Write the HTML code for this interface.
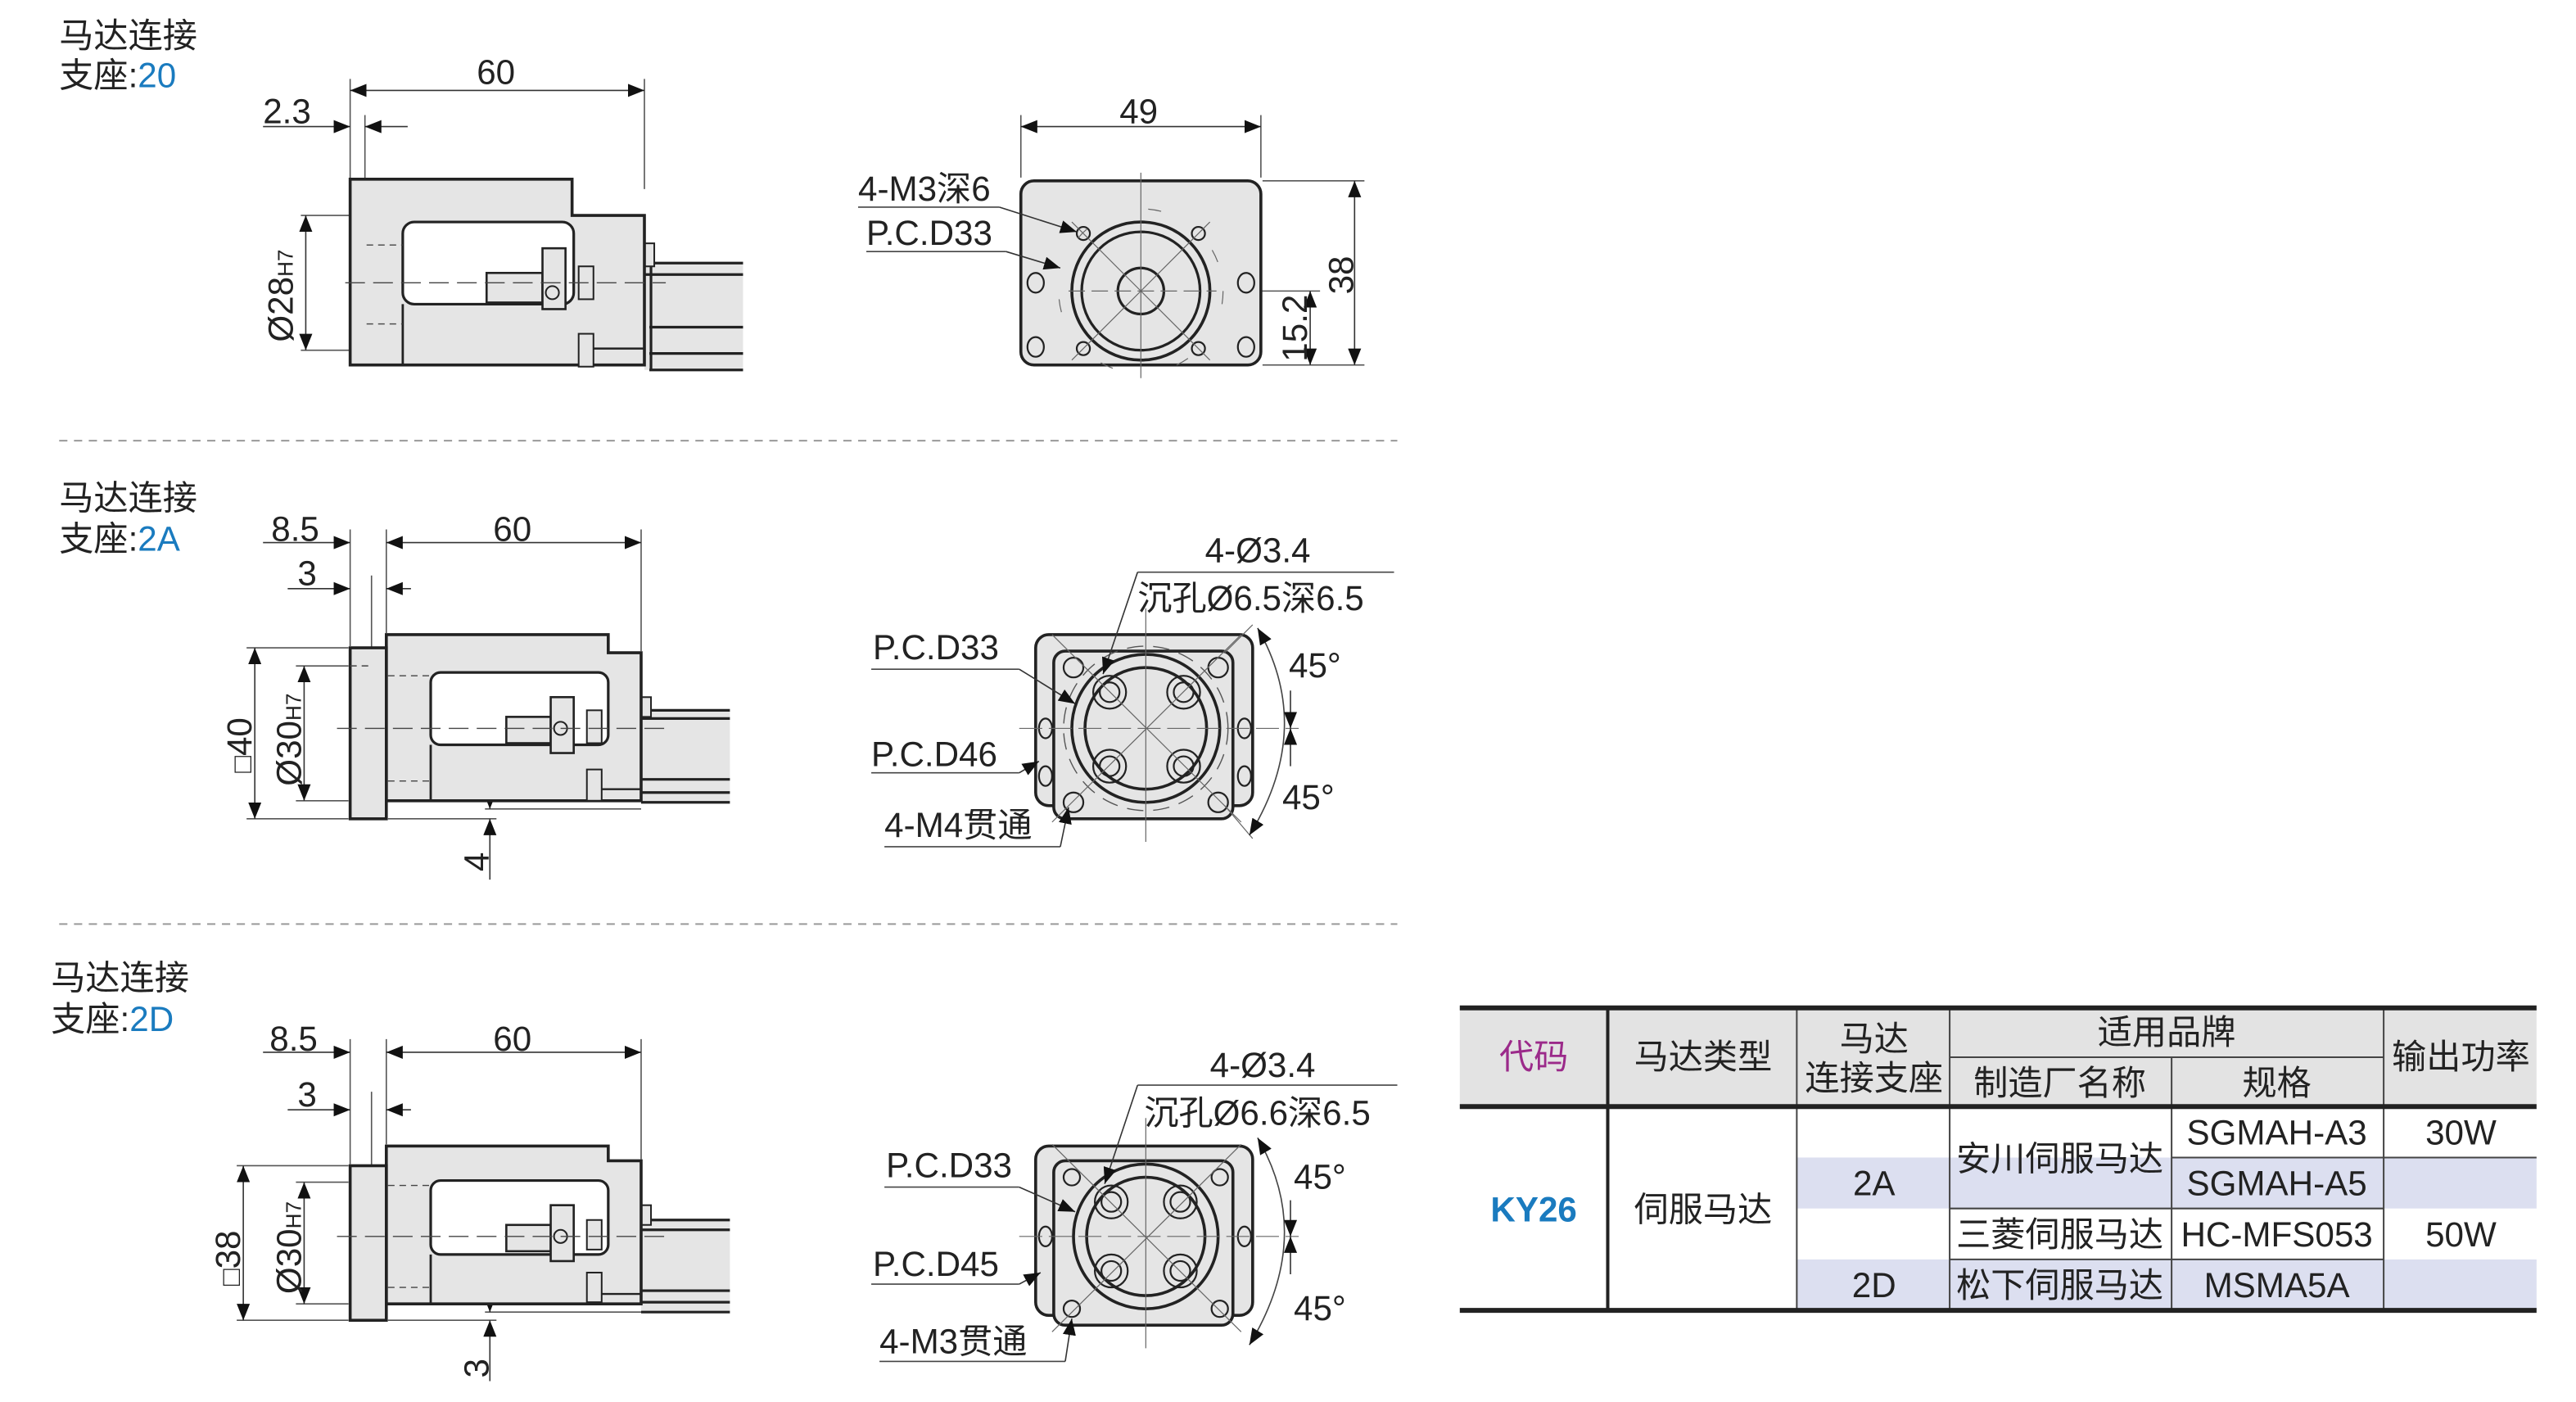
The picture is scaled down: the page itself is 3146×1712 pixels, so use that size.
<!DOCTYPE html>
<html><head><meta charset="utf-8"><style>
html,body{margin:0;padding:0;background:#fff;}
svg{display:block;}
text{font-family:"Liberation Sans","Noto Sans CJK SC",sans-serif;fill:#222;}
</style></head><body>
<svg width="3146" height="1712" viewBox="0 0 1567 852.7" preserveAspectRatio="none" xmlns="http://www.w3.org/2000/svg">
<defs>
<marker id="a" viewBox="0 0 10 8" refX="10" refY="4" markerWidth="10" markerHeight="8" markerUnits="userSpaceOnUse" orient="auto-start-reverse"><path d="M0,0 L10,4 L0,8 z" fill="#111"/></marker>
</defs>
<g font-size="21">
<!-- ========== Section 1 ========== -->
<text x="36" y="29">马达连接</text>
<text x="36" y="53">支座:<tspan fill="#1a7bbf">20</tspan></text>
<g stroke="#555" stroke-width="0.8" fill="none">
<line x1="213" y1="48" x2="213" y2="109"/><line x1="392" y1="48" x2="392" y2="115"/>
<line x1="222" y1="70" x2="222" y2="218"/>
<line x1="183" y1="131" x2="222" y2="131"/><line x1="183" y1="213" x2="222" y2="213"/>
</g>
<line x1="213" y1="55" x2="392" y2="55" stroke="#333" stroke-width="0.8" marker-start="url(#a)" marker-end="url(#a)"/>
<line x1="160" y1="77" x2="213" y2="77" stroke="#333" stroke-width="0.8" marker-end="url(#a)"/>
<line x1="248" y1="77" x2="222" y2="77" stroke="#333" stroke-width="0.8" marker-end="url(#a)"/>
<line x1="186" y1="131" x2="186" y2="213" stroke="#333" stroke-width="0.8" marker-start="url(#a)" marker-end="url(#a)"/>
<text x="290" y="51">60</text><text x="160" y="75">2.3</text>
<text transform="translate(178,208) rotate(-90)">Ø28<tspan font-size="13">H7</tspan></text>
<g stroke="#222" fill="#e5e5e5">
<rect x="392" y="160" width="60" height="65" stroke="none"/>
<g stroke-width="1.6"><line x1="392" y1="160" x2="452" y2="160"/><line x1="392" y1="167" x2="452" y2="167"/><line x1="395" y1="199" x2="452" y2="199"/><line x1="395" y1="215" x2="452" y2="215"/><line x1="395" y1="225" x2="452" y2="225"/><line x1="396" y1="160" x2="396" y2="225"/></g>
<rect x="392" y="148" width="6" height="14" stroke-width="1"/>
<path d="M213,109 H348 V131 H392 V222 H213 Z" stroke-width="1.8"/>
<rect x="245" y="135" width="104" height="50" rx="7" fill="#fff" stroke-width="1.6"/>
<line x1="245" y1="185" x2="245" y2="222" stroke-width="1.4"/>
<line x1="352" y1="212" x2="392" y2="212" stroke-width="1.2"/>
<rect x="352" y="162" width="9" height="20" stroke-width="1"/><rect x="352" y="203" width="9" height="20" stroke-width="1"/>
<rect x="296" y="166" width="34" height="18" stroke-width="1.3"/>
<rect x="330" y="151" width="14" height="37" stroke-width="1.3"/>
<circle cx="336" cy="178" r="4" stroke-width="1"/>
</g>
<line x1="210" y1="172" x2="405" y2="172" stroke="#444" stroke-width="0.7" stroke-dasharray="12,5"/>
<line x1="223" y1="149" x2="245" y2="149" stroke="#444" stroke-width="0.7" stroke-dasharray="4,3"/>
<line x1="223" y1="197" x2="245" y2="197" stroke="#444" stroke-width="0.7" stroke-dasharray="4,3"/>
<g stroke="#555" stroke-width="0.8" fill="none">
<line x1="621" y1="70" x2="621" y2="108"/><line x1="767" y1="70" x2="767" y2="108"/>
<line x1="768" y1="110" x2="830" y2="110"/><line x1="768" y1="222" x2="830" y2="222"/>
<line x1="745" y1="177" x2="803" y2="177"/>
</g>
<line x1="621" y1="77" x2="767" y2="77" stroke="#333" stroke-width="0.8" marker-start="url(#a)" marker-end="url(#a)"/>
<line x1="824" y1="110" x2="824" y2="222" stroke="#333" stroke-width="0.8" marker-start="url(#a)" marker-end="url(#a)"/>
<line x1="797" y1="177" x2="797" y2="222" stroke="#333" stroke-width="0.8" marker-start="url(#a)" marker-end="url(#a)"/>
<text x="681" y="75">49</text>
<text transform="translate(823,179) rotate(-90)">38</text>
<text transform="translate(795,220) rotate(-90)">15.2</text>
<rect x="621" y="110" width="146" height="112" rx="8" fill="#e5e5e5" stroke="#222" stroke-width="1.8"/>
<g fill="none" stroke="#222">
<circle cx="694" cy="177" r="42" stroke-width="1.8"/><circle cx="694" cy="177" r="36" stroke-width="1.6"/><circle cx="694" cy="177" r="14" stroke-width="1.6"/>
<g stroke-width="1.1"><ellipse cx="630" cy="172" rx="5" ry="6"/><ellipse cx="758" cy="172" rx="5" ry="6"/><ellipse cx="630" cy="211" rx="5" ry="6"/><ellipse cx="758" cy="211" rx="5" ry="6"/>
<circle cx="659" cy="142" r="4"/><circle cx="729" cy="142" r="4"/><circle cx="659" cy="212" r="4"/><circle cx="729" cy="212" r="4"/></g>
<g stroke="#666" stroke-width="0.6"><line x1="694" y1="105" x2="694" y2="230"/><line x1="650" y1="177" x2="740" y2="177" stroke-dasharray="10,4"/><line x1="652" y1="135" x2="736" y2="219"/><line x1="736" y1="135" x2="652" y2="219"/>
<circle cx="694" cy="177" r="50" stroke-dasharray="8,40"/></g>
</g>
<line x1="522" y1="126" x2="608" y2="126" stroke="#444" stroke-width="0.8"/>
<line x1="608" y1="126" x2="655" y2="141" stroke="#333" stroke-width="0.8" marker-end="url(#a)"/>
<line x1="527" y1="153" x2="612" y2="153" stroke="#444" stroke-width="0.8"/>
<line x1="612" y1="153" x2="645" y2="163" stroke="#333" stroke-width="0.8" marker-end="url(#a)"/>
<text x="522" y="122">4-M3深6</text><text x="527" y="149">P.C.D33</text>

<line x1="36" y1="268" x2="850" y2="268" stroke="#999" stroke-width="1" stroke-dasharray="5,4"/>
<line x1="36" y1="562" x2="850" y2="562" stroke="#999" stroke-width="1" stroke-dasharray="5,4"/>

<!-- ========== Section 2 ========== -->
<text x="36" y="310">马达连接</text>
<text x="36" y="335">支座:<tspan fill="#1a7bbf">2A</tspan></text>
<g stroke="#555" stroke-width="0.8" fill="none">
<line x1="213" y1="322" x2="213" y2="393"/><line x1="235" y1="322" x2="235" y2="385"/><line x1="390" y1="322" x2="390" y2="396"/>
<line x1="226" y1="350" x2="226" y2="492"/>
<line x1="150" y1="394" x2="212" y2="394"/><line x1="150" y1="498" x2="212" y2="498"/>
<line x1="180" y1="405" x2="212" y2="405"/><line x1="180" y1="487" x2="212" y2="487"/>
<line x1="236" y1="498" x2="302" y2="498"/><line x1="295" y1="492" x2="390" y2="492"/>
</g>
<line x1="235" y1="330" x2="390" y2="330" stroke="#333" stroke-width="0.8" marker-start="url(#a)" marker-end="url(#a)"/>
<line x1="160" y1="330" x2="213" y2="330" stroke="#333" stroke-width="0.8" marker-end="url(#a)"/>
<line x1="175" y1="358" x2="213" y2="358" stroke="#333" stroke-width="0.8" marker-end="url(#a)"/>
<line x1="250" y1="358" x2="235" y2="358" stroke="#333" stroke-width="0.8" marker-end="url(#a)"/>
<line x1="155" y1="394" x2="155" y2="498" stroke="#333" stroke-width="0.8" marker-start="url(#a)" marker-end="url(#a)"/>
<line x1="185" y1="405" x2="185" y2="487" stroke="#333" stroke-width="0.8" marker-start="url(#a)" marker-end="url(#a)"/>
<line x1="298" y1="470" x2="298" y2="492" stroke="#333" stroke-width="0.8" marker-end="url(#a)"/>
<line x1="298" y1="535" x2="298" y2="498" stroke="#333" stroke-width="0.8" marker-end="url(#a)"/>
<text x="300" y="329">60</text><text x="165" y="329">8.5</text><text x="181" y="356">3</text>
<text transform="translate(153,470) rotate(-90)"><tspan font-size="17">□</tspan>40</text>
<text transform="translate(183,478) rotate(-90)">Ø30<tspan font-size="13">H7</tspan></text>
<text transform="translate(297,530) rotate(-90)">4</text>
<g stroke="#222" fill="#e5e5e5">
<rect x="390" y="432" width="54" height="56" stroke="none"/>
<g stroke-width="1.6"><line x1="390" y1="432" x2="444" y2="432"/><line x1="390" y1="437" x2="444" y2="437"/><line x1="390" y1="474" x2="444" y2="474"/><line x1="390" y1="482" x2="444" y2="482"/><line x1="390" y1="488" x2="444" y2="488"/></g>
<rect x="390" y="424" width="6" height="12" stroke-width="1"/>
<path d="M235,386 H370 V397 H390 V487 H235 Z" stroke-width="1.8"/>
<rect x="213" y="394" width="22" height="104" stroke-width="1.8"/>
<rect x="262" y="409" width="108" height="44" rx="6" fill="#fff" stroke-width="1.6"/>
<line x1="262" y1="453" x2="262" y2="487" stroke-width="1.4"/>
<line x1="358" y1="480" x2="390" y2="480" stroke-width="1.2"/>
<rect x="357" y="432" width="9" height="20" stroke-width="1"/><rect x="357" y="468" width="9" height="19" stroke-width="1"/>
<rect x="308" y="436" width="27" height="16" stroke-width="1.3"/>
<rect x="335" y="424" width="14" height="34" stroke-width="1.3"/>
<circle cx="341" cy="443" r="4" stroke-width="1"/>
</g>
<line x1="205" y1="443" x2="408" y2="443" stroke="#444" stroke-width="0.7" stroke-dasharray="12,5"/>
<line x1="236" y1="411" x2="262" y2="411" stroke="#444" stroke-width="0.7" stroke-dasharray="4,3"/>
<line x1="236" y1="475" x2="262" y2="475" stroke="#444" stroke-width="0.7" stroke-dasharray="4,3"/>
<line x1="213" y1="405" x2="226" y2="405" stroke="#444" stroke-width="0.7" stroke-dasharray="4,3"/>
<rect x="630" y="386" width="132" height="104" rx="8" fill="#e5e5e5" stroke="#222" stroke-width="1.8"/>
<rect x="641" y="396" width="109" height="102" rx="7" fill="#e5e5e5" stroke="#222" stroke-width="1.8"/>
<g fill="none" stroke="#222">
<circle cx="697" cy="443" r="45" stroke-width="1.8"/><circle cx="697" cy="443" r="37" stroke-width="1.8"/>
<circle cx="697" cy="443" r="50" stroke="#555" stroke-width="0.7" stroke-dasharray="10,6"/>
<g stroke-width="1.1">
<circle cx="675" cy="421" r="10"/><circle cx="675" cy="421" r="6"/><circle cx="720" cy="421" r="10"/><circle cx="720" cy="421" r="6"/>
<circle cx="675" cy="466" r="10"/><circle cx="675" cy="466" r="6"/><circle cx="720" cy="466" r="10"/><circle cx="720" cy="466" r="6"/>
<circle cx="653" cy="406" r="6"/><circle cx="741" cy="406" r="6"/><circle cx="653" cy="488" r="6"/><circle cx="741" cy="488" r="6"/>
<ellipse cx="636" cy="443" rx="4" ry="6"/><ellipse cx="757" cy="443" rx="4" ry="6"/><ellipse cx="636" cy="472" rx="4" ry="6"/><ellipse cx="757" cy="472" rx="4" ry="6"/>
</g>
<g stroke="#666" stroke-width="0.6"><line x1="697" y1="370" x2="697" y2="512"/><line x1="620" y1="443" x2="790" y2="443" stroke-dasharray="14,4"/><line x1="640" y1="386" x2="755" y2="500"/><line x1="755" y1="386" x2="640" y2="500"/><line x1="762" y1="380" x2="745" y2="397"/><line x1="745" y1="490" x2="762" y2="510"/></g>
<path d="M765,382 Q800,443 760,508" stroke="#444" stroke-width="0.8" marker-start="url(#a)" marker-end="url(#a)"/>
</g>
<line x1="785" y1="420" x2="785" y2="443" stroke="#333" stroke-width="0.8" marker-end="url(#a)"/>
<line x1="785" y1="466" x2="785" y2="443" stroke="#333" stroke-width="0.8" marker-end="url(#a)"/>
<line x1="692" y1="348" x2="848" y2="348" stroke="#444" stroke-width="0.8"/>
<line x1="692" y1="348" x2="671" y2="410" stroke="#333" stroke-width="0.8" marker-end="url(#a)"/>
<line x1="530" y1="407" x2="620" y2="407" stroke="#444" stroke-width="0.8"/>
<line x1="620" y1="407" x2="654" y2="428" stroke="#333" stroke-width="0.8" marker-end="url(#a)"/>
<line x1="530" y1="470" x2="620" y2="470" stroke="#444" stroke-width="0.8"/>
<line x1="620" y1="470" x2="632" y2="463" stroke="#333" stroke-width="0.8" marker-end="url(#a)"/>
<line x1="538" y1="515" x2="645" y2="515" stroke="#444" stroke-width="0.8"/>
<line x1="645" y1="515" x2="650" y2="491" stroke="#333" stroke-width="0.8" marker-end="url(#a)"/>
<text x="733" y="342">4-Ø3.4</text><text x="692" y="371">沉孔Ø6.5深6.5</text>
<text x="531" y="401">P.C.D33</text><text x="530" y="466">P.C.D46</text><text x="538" y="509">4-M4贯通</text>
<text x="784" y="412">45°</text><text x="780" y="492">45°</text>

<!-- ========== Section 3 ========== -->
<text x="31" y="602">马达连接</text>
<text x="31" y="627">支座:<tspan fill="#1a7bbf">2D</tspan></text>
<g stroke="#555" stroke-width="0.8" fill="none">
<line x1="213" y1="632" x2="213" y2="708"/><line x1="235" y1="632" x2="235" y2="696"/><line x1="390" y1="632" x2="390" y2="705"/>
<line x1="226" y1="664" x2="226" y2="800"/>
<line x1="144" y1="709" x2="212" y2="709"/><line x1="144" y1="803" x2="212" y2="803"/>
<line x1="180" y1="719" x2="212" y2="719"/><line x1="180" y1="793" x2="212" y2="793"/>
<line x1="236" y1="803" x2="302" y2="803"/><line x1="295" y1="798" x2="390" y2="798"/>
</g>
<line x1="235" y1="640" x2="390" y2="640" stroke="#333" stroke-width="0.8" marker-start="url(#a)" marker-end="url(#a)"/>
<line x1="160" y1="640" x2="213" y2="640" stroke="#333" stroke-width="0.8" marker-end="url(#a)"/>
<line x1="175" y1="675" x2="213" y2="675" stroke="#333" stroke-width="0.8" marker-end="url(#a)"/>
<line x1="250" y1="675" x2="235" y2="675" stroke="#333" stroke-width="0.8" marker-end="url(#a)"/>
<line x1="148" y1="709" x2="148" y2="803" stroke="#333" stroke-width="0.8" marker-start="url(#a)" marker-end="url(#a)"/>
<line x1="185" y1="719" x2="185" y2="793" stroke="#333" stroke-width="0.8" marker-start="url(#a)" marker-end="url(#a)"/>
<line x1="298" y1="772" x2="298" y2="798" stroke="#333" stroke-width="0.8" marker-end="url(#a)"/>
<line x1="298" y1="840" x2="298" y2="803" stroke="#333" stroke-width="0.8" marker-end="url(#a)"/>
<text x="300" y="639">60</text><text x="164" y="639">8.5</text><text x="181" y="673">3</text>
<text transform="translate(146,782) rotate(-90)"><tspan font-size="17">□</tspan>38</text>
<text transform="translate(183,787) rotate(-90)">Ø30<tspan font-size="13">H7</tspan></text>
<text transform="translate(297,838) rotate(-90)">3</text>
<g stroke="#222" fill="#e5e5e5">
<rect x="390" y="742" width="54" height="56" stroke="none"/>
<g stroke-width="1.6"><line x1="390" y1="742" x2="444" y2="742"/><line x1="390" y1="748" x2="444" y2="748"/><line x1="390" y1="785" x2="444" y2="785"/><line x1="390" y1="792" x2="444" y2="792"/><line x1="390" y1="798" x2="444" y2="798"/></g>
<rect x="390" y="733" width="6" height="12" stroke-width="1"/>
<path d="M235,697 H370 V706 H390 V793 H235 Z" stroke-width="1.8"/>
<rect x="213" y="709" width="22" height="94" stroke-width="1.8"/>
<rect x="262" y="718" width="108" height="45" rx="6" fill="#fff" stroke-width="1.6"/>
<line x1="262" y1="763" x2="262" y2="793" stroke-width="1.4"/>
<line x1="358" y1="787" x2="390" y2="787" stroke-width="1.2"/>
<rect x="357" y="742" width="9" height="18" stroke-width="1"/><rect x="357" y="774" width="9" height="18" stroke-width="1"/>
<rect x="308" y="745" width="27" height="16" stroke-width="1.3"/>
<rect x="335" y="733" width="14" height="34" stroke-width="1.3"/>
<circle cx="341" cy="752" r="4" stroke-width="1"/>
</g>
<line x1="205" y1="752" x2="408" y2="752" stroke="#444" stroke-width="0.7" stroke-dasharray="12,5"/>
<line x1="236" y1="721" x2="262" y2="721" stroke="#444" stroke-width="0.7" stroke-dasharray="4,3"/>
<line x1="236" y1="783" x2="262" y2="783" stroke="#444" stroke-width="0.7" stroke-dasharray="4,3"/>
<rect x="630" y="697" width="132" height="103" rx="8" fill="#e5e5e5" stroke="#222" stroke-width="1.8"/>
<rect x="641" y="706" width="109" height="100" rx="7" fill="#e5e5e5" stroke="#222" stroke-width="1.8"/>
<g fill="none" stroke="#222">
<circle cx="697" cy="752" r="44" stroke-width="1.8"/><circle cx="697" cy="752" r="36" stroke-width="1.8"/>
<g stroke-width="1.1">
<circle cx="676" cy="731" r="10"/><circle cx="676" cy="731" r="6"/><circle cx="718" cy="731" r="10"/><circle cx="718" cy="731" r="6"/>
<circle cx="676" cy="773" r="10"/><circle cx="676" cy="773" r="6"/><circle cx="718" cy="773" r="10"/><circle cx="718" cy="773" r="6"/>
<circle cx="652" cy="716" r="5"/><circle cx="742" cy="716" r="5"/><circle cx="652" cy="796" r="5"/><circle cx="742" cy="796" r="5"/>
<ellipse cx="636" cy="752" rx="4" ry="6"/><ellipse cx="757" cy="752" rx="4" ry="6"/>
</g>
<g stroke="#666" stroke-width="0.6"><line x1="697" y1="680" x2="697" y2="820"/><line x1="620" y1="752" x2="790" y2="752" stroke-dasharray="14,4"/><line x1="640" y1="696" x2="755" y2="810"/><line x1="755" y1="696" x2="640" y2="810"/></g>
<path d="M765,692 Q800,752 760,818" stroke="#444" stroke-width="0.8" marker-start="url(#a)" marker-end="url(#a)"/>
</g>
<line x1="785" y1="730" x2="785" y2="752" stroke="#333" stroke-width="0.8" marker-end="url(#a)"/>
<line x1="785" y1="775" x2="785" y2="752" stroke="#333" stroke-width="0.8" marker-end="url(#a)"/>
<line x1="692" y1="660" x2="850" y2="660" stroke="#444" stroke-width="0.8"/>
<line x1="692" y1="660" x2="672" y2="720" stroke="#333" stroke-width="0.8" marker-end="url(#a)"/>
<line x1="538" y1="722" x2="620" y2="722" stroke="#444" stroke-width="0.8"/>
<line x1="620" y1="722" x2="654" y2="737" stroke="#333" stroke-width="0.8" marker-end="url(#a)"/>
<line x1="530" y1="781" x2="620" y2="781" stroke="#444" stroke-width="0.8"/>
<line x1="620" y1="781" x2="633" y2="774" stroke="#333" stroke-width="0.8" marker-end="url(#a)"/>
<line x1="535" y1="828" x2="648" y2="828" stroke="#444" stroke-width="0.8"/>
<line x1="648" y1="828" x2="652" y2="802" stroke="#333" stroke-width="0.8" marker-end="url(#a)"/>
<text x="736" y="655">4-Ø3.4</text><text x="696" y="684">沉孔Ø6.6深6.5</text>
<text x="539" y="716">P.C.D33</text><text x="531" y="776">P.C.D45</text><text x="535" y="823">4-M3贯通</text>
<text x="787" y="723">45°</text><text x="787" y="803">45°</text>

<!-- ========== Table ========== -->
<rect x="888" y="612" width="655" height="61" fill="#e3e3e3"/>
<rect x="1093" y="704" width="450" height="31" fill="#dcdff0"/>
<rect x="1093" y="766" width="450" height="31" fill="#dcdff0"/>
<rect x="1186" y="674" width="135" height="30" fill="#fff"/>
<g stroke="#444" stroke-width="1">
<line x1="1093" y1="612" x2="1093" y2="797"/><line x1="1186" y1="612" x2="1186" y2="797"/>
<line x1="1321" y1="643" x2="1321" y2="797"/><line x1="1450" y1="612" x2="1450" y2="797"/>
<line x1="1186" y1="643" x2="1450" y2="643"/>
<line x1="1321" y1="704" x2="1543" y2="704"/>
<line x1="1186" y1="735" x2="1450" y2="735"/>
<line x1="1186" y1="766" x2="1450" y2="766"/>
</g>
<line x1="978" y1="612" x2="978" y2="797" stroke="#222" stroke-width="2"/>
<line x1="888" y1="613" x2="1543" y2="613" stroke="#222" stroke-width="3"/>
<line x1="888" y1="673" x2="1543" y2="673" stroke="#222" stroke-width="3"/>
<line x1="888" y1="797" x2="1543" y2="797" stroke="#222" stroke-width="3"/>
<g text-anchor="middle">
<text x="933" y="650" style="fill:#9b2a8a">代码</text>
<text x="1036" y="650">马达类型</text>
<text x="1140" y="639">马达</text><text x="1140" y="663">连接支座</text>
<text x="1318" y="635">适用品牌</text>
<text x="1253" y="666">制造厂名称</text><text x="1385" y="666">规格</text>
<text x="1497" y="650">输出功率</text>
<text x="933" y="743" font-weight="bold" style="fill:#1a7bbf">KY26</text>
<text x="1036" y="743">伺服马达</text>
<text x="1140" y="727">2A</text><text x="1140" y="789">2D</text>
<text x="1253" y="712">安川伺服马达</text><text x="1253" y="758">三菱伺服马达</text><text x="1253" y="789">松下伺服马达</text>
<text x="1385" y="696">SGMAH-A3</text><text x="1385" y="727">SGMAH-A5</text><text x="1385" y="758">HC-MFS053</text><text x="1385" y="789">MSMA5A</text>
<text x="1497" y="696">30W</text><text x="1497" y="758">50W</text>
</g>
</g>
</svg>
</body></html>
